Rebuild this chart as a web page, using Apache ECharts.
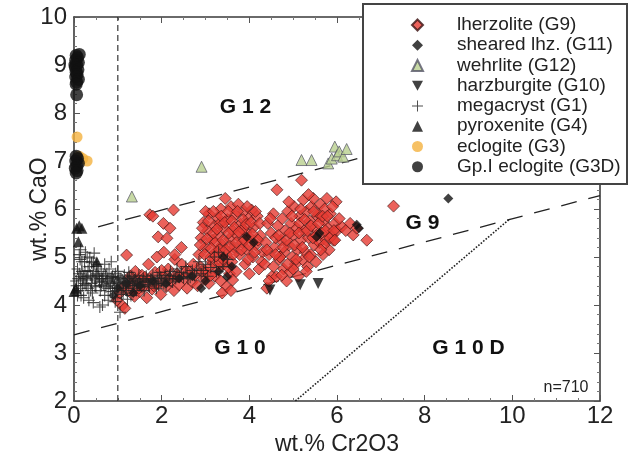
<!DOCTYPE html>
<html><head><meta charset="utf-8">
<script src="https://cdn.jsdelivr.net/npm/echarts@6/dist/echarts.min.js"></script>
<style>html,body{margin:0;padding:0;background:#fff}#c{width:630px;height:461px}</style>
</head><body><div id="c"></div>
<script>
const seriesNames = ['lherzolite (G9)','sheared lhz. (G11)','wehrlite (G12)','harzburgite (G10)','megacryst (G1)','pyroxenite (G4)','eclogite (G3)','Gp.I eclogite (G3D)'];
const xTicks = [0,2,4,6,8,10,12];
const yTicks = [2,3,4,5,6,7,8,9,10];

const lherzolite = [
[1.10,3.99],[1.16,3.93],[1.20,5.04],[1.25,4.30],[1.32,4.45],[1.38,4.18],[1.45,4.52],[1.50,4.28],[1.55,4.62],[1.60,4.40],
[1.66,4.15],[1.72,4.55],[1.78,4.33],[1.85,4.68],[1.89,5.00],[1.92,4.45],[1.98,4.22],[2.04,4.60],[2.10,4.38],[2.15,4.75],
[2.22,4.50],[2.28,4.30],[2.35,4.65],[2.40,4.42],[2.46,4.85],[2.52,4.55],[2.58,4.35],[2.64,4.72],[2.70,4.48],[2.76,4.62],
[2.82,4.40],[2.88,4.80],[2.95,4.55],[3.02,4.68],[3.08,4.45],[3.15,4.90],[3.22,4.60],[3.28,4.75],[3.35,4.50],[3.42,4.85],
[3.48,4.38],[3.55,4.65],[3.62,4.52],[3.38,4.25],[3.58,4.30],[1.40,4.70],[1.70,4.85],[2.30,4.95],[0.98,4.10],[1.05,4.25],
[1.15,4.40],[1.28,4.60],[1.48,4.35],[1.62,4.58],[1.82,4.40],[2.00,4.72],[2.18,4.55],[2.38,4.60],[2.55,4.70],[2.72,4.85],
[2.92,4.70],[3.12,4.62],[3.32,4.88],[3.52,4.78],
[1.73,5.88],[2.04,5.70],[2.19,5.60],[1.92,5.42],[2.12,5.39],[2.27,5.98],[1.80,5.85],[2.30,5.05],[2.05,5.10],[2.45,5.20],
[2.85,5.05],[2.90,5.40],[2.95,5.72],[3.00,5.20],[3.05,5.55],[3.08,5.90],[3.12,5.00],[3.15,5.35],[3.20,5.65],[3.25,5.12],
[3.28,5.82],[3.30,5.45],[3.35,6.00],[3.38,5.25],[3.42,5.60],[3.45,6.22],[3.48,5.05],[3.50,5.78],[3.55,5.38],[3.58,6.05],
[3.60,4.90],[3.62,5.55],[3.65,5.20],[3.68,5.88],[3.72,5.45],[3.75,6.10],[3.78,5.05],[3.80,5.68],[3.84,5.30],[3.88,5.95],
[3.90,4.85],[3.92,5.52],[3.95,5.15],[3.98,5.80],[4.02,5.40],[4.05,5.98],[4.08,5.00],[4.10,5.62],[4.15,5.25],[4.18,5.85],
[4.22,4.75],[4.25,5.45],[3.10,4.80],[3.40,4.95],[3.70,4.70],[4.00,4.65],[3.52,5.95],[3.22,5.30],[3.85,5.58],[4.30,5.10],
[3.00,5.95],[3.33,5.70],[3.95,6.05],
[2.88,5.25],[2.93,5.60],[2.98,5.05],[3.03,5.38],[3.07,5.75],[3.13,5.18],[3.18,5.50],[3.18,5.95],[3.24,5.02],[3.26,5.58],
[3.32,5.15],[3.36,5.85],[3.40,5.35],[3.44,5.72],[3.46,5.15],[3.53,5.50],[3.56,5.22],[3.60,5.75],[3.63,5.05],[3.66,5.62],
[3.70,5.30],[3.73,5.95],[3.76,5.52],[3.82,5.15],[3.86,5.78],[3.89,5.35],[3.93,5.68],[3.97,4.95],[4.00,5.25],[4.04,5.72],
[4.07,5.48],[4.12,5.10],[4.14,5.95],[4.20,5.35],[4.24,5.70],[4.28,4.90],
[4.35,4.85],[4.38,5.30],[4.40,4.35],[4.42,5.70],[4.45,5.05],[4.50,5.50],[4.52,4.60],[4.55,5.90],[4.58,5.20],[4.62,4.59],
[4.63,6.40],[4.65,5.65],[4.68,4.95],[4.72,5.35],[4.75,5.80],[4.78,4.75],[4.80,5.10],[4.82,5.55],[4.85,4.50],[4.88,5.95],
[4.90,5.25],[4.93,4.69],[4.95,5.70],[4.98,5.00],[5.00,5.45],[5.02,6.05],[5.05,4.85],[5.08,5.60],[5.10,5.15],[5.12,4.60],
[5.15,5.85],[5.18,5.35],[5.19,6.60],[5.22,4.94],[5.23,6.19],[5.25,5.55],[5.28,5.10],[5.30,5.95],[5.33,4.80],[5.35,5.40],
[5.38,5.75],[5.40,5.05],[5.42,6.05],[5.46,6.22],[5.48,5.25],[5.50,5.60],[5.52,4.90],[5.55,5.85],[5.57,5.91],[5.60,5.30],
[5.62,6.10],[5.65,5.50],[5.68,5.05],[5.70,5.75],[5.72,6.00],[5.75,5.35],[5.77,6.22],[5.80,5.60],[5.82,5.15],[5.85,5.90],
[5.88,5.45],[5.92,5.35],[5.95,5.70],[5.98,6.15],[6.00,5.55],[4.70,5.00],[5.00,4.75],[5.30,4.70],[4.45,4.50],[4.60,5.40],
[5.15,5.70],[5.45,5.40],[5.70,5.25],[4.90,6.15],[5.35,6.30],
[4.40,5.15],[4.48,5.80],[4.55,4.80],[4.60,5.05],[4.67,5.45],[4.74,4.62],[4.77,5.20],[4.85,5.35],[4.87,4.85],[4.92,5.50],
[4.97,5.85],[5.03,5.25],[5.07,4.95],[5.13,5.50],[5.17,6.00],[5.21,5.20],[5.26,5.78],[5.32,5.55],[5.37,5.00],[5.41,5.65],
[5.47,5.95],[5.53,5.45],[5.58,5.70],[5.63,5.15],[5.67,5.85],[5.73,5.55],[5.78,5.85],[5.84,5.40],[5.90,6.05],[5.93,5.55],
[5.95,5.35],[6.11,5.63],[6.30,5.70],[6.37,5.46],[6.68,5.35],[6.20,5.55],[6.45,5.60],[7.29,6.06],[6.05,5.80]
];
const shearedLhz = [
[0.90,4.20],[1.00,4.35],[1.20,4.45],[1.35,4.25],[1.50,4.40],[1.80,4.50],[2.10,4.45],[2.40,4.55],[2.70,4.60],[2.90,4.35],
[3.00,4.50],[3.30,4.70],[3.41,5.00],[3.49,4.59],[3.60,4.80],[3.94,5.42],[4.10,5.30],[5.54,5.42],[5.60,5.50],[6.45,5.67],
[6.50,5.60],[8.54,6.22]
];
const wehrlite = [
[1.32,6.26],[2.91,6.88],[5.19,7.02],[5.42,7.02],[5.80,6.95],[5.88,7.05],[5.95,7.30],[6.00,7.12],[6.05,7.20],[6.14,7.09],[6.22,7.25]
];
const harzburgite = [[4.47,4.31],[5.16,4.42],[5.57,4.45]];
const megacryst = [
[0.05,4.50],[0.08,4.75],[0.10,4.30],[0.12,5.05],[0.15,4.60],[0.18,4.90],[0.20,4.40],[0.22,4.15],[0.25,4.70],[0.28,4.55],
[0.30,5.00],[0.32,4.35],[0.35,4.80],[0.38,4.62],[0.40,4.45],[0.42,4.25],[0.45,4.70],[0.48,4.52],[0.50,4.38],[0.52,4.85],
[0.55,4.60],[0.58,4.48],[0.59,3.96],[0.60,4.30],[0.62,4.70],[0.65,4.55],[0.68,4.42],[0.70,4.20],[0.72,4.62],[0.75,4.50],
[0.78,4.35],[0.80,4.75],[0.82,4.45],[0.85,4.58],[0.88,4.28],[0.90,4.52],[0.92,4.40],[0.94,4.07],[0.95,4.65],[0.98,4.48],
[1.00,4.35],[1.02,4.58],[1.05,4.42],[1.08,4.22],[1.10,4.52],[1.12,4.38],[1.15,4.62],[1.18,4.45],[1.20,4.30],[1.22,4.55],
[1.25,4.40],[1.28,4.50],[1.30,4.20],[1.32,4.60],[1.35,4.45],[1.38,4.35],[1.40,4.55],[1.45,4.42],[1.48,4.62],[1.50,4.50],
[1.55,4.38],[1.58,4.55],[1.62,4.48],[1.65,4.60],[1.70,4.42],[1.75,4.52],[1.80,4.62],[1.85,4.45],[1.90,4.55],[1.95,4.68],
[2.00,4.50],[2.08,4.62],[2.15,4.55],[2.20,4.70],[2.28,4.60],[2.35,4.75],[2.45,4.68],[2.55,4.80],[2.70,4.72],[2.85,4.90],
[3.00,4.85],[3.20,5.00],[3.30,5.10],[0.14,4.95],[0.26,5.10],[0.36,4.98],[0.46,5.08],[0.16,4.20],[0.34,4.10],[0.44,4.05],
[0.65,4.00],[0.78,4.10],[1.05,3.85],[0.25,4.45],[0.55,4.75],[0.70,4.85],[0.85,4.90],[0.40,4.88],[0.12,4.65],[0.06,4.40],
[0.30,4.60],[0.62,4.40],[0.88,4.60],[1.12,4.25],[1.42,4.30],[1.60,4.30],[1.88,4.35],[2.10,4.40],[0.20,4.52],[0.50,4.62],
[0.75,4.65],[1.00,4.70],[1.25,4.68],[0.95,4.15],[1.22,4.12],[2.60,4.55],[2.90,4.65],
[0.10,4.55],[0.15,4.35],[0.18,4.70],[0.22,4.58],[0.28,4.42],[0.32,4.72],[0.38,4.30],[0.42,4.58],[0.48,4.40],[0.52,4.65],
[0.58,4.55],[0.63,4.48],[0.68,4.60],[0.73,4.38],[0.77,4.55],[0.83,4.35],[0.87,4.48],[0.93,4.58],[0.97,4.30],[1.03,4.45],
[1.07,4.55],[1.13,4.48],[1.17,4.35],[1.23,4.48],[1.27,4.58],[1.33,4.40],[1.37,4.52],[1.43,4.48],[1.52,4.42],[1.57,4.48],
[1.67,4.52],[1.72,4.38],[1.78,4.55],[1.83,4.48],[1.93,4.42],[1.98,4.58],[2.05,4.45],[2.12,4.52],[2.18,4.62],[2.25,4.48],
[2.32,4.55],[2.40,4.60],[2.50,4.58],[2.58,4.65],[2.65,4.58],[2.75,4.62],[2.80,4.75],[2.95,4.72],[3.05,4.60],[3.12,4.78],
[3.25,4.70],[3.40,4.80],[3.50,4.95],[0.08,4.20],[0.24,4.90],[0.44,4.90],[0.15,5.15]
];
const pyroxenite = [[0.06,5.60],[0.18,5.60],[0.10,5.32],[0.52,4.90],[0.00,4.28],[0.04,4.35],[0.12,5.65]];
const eclogite = [[0.07,7.50],[0.30,7.00],[0.20,7.05],[0.12,7.10]];
const gp1Eclogite = [
[0.12,9.22],[0.05,9.20],[0.08,9.15],[0.04,9.10],[0.10,9.05],[0.06,9.00],[0.02,9.00],[0.03,8.95],[0.09,8.90],[0.05,8.85],
[0.07,8.80],[0.04,8.75],[0.10,8.70],[0.06,8.65],[0.05,8.60],[0.06,8.38],[0.05,7.10],[0.08,7.05],[0.04,7.00],[0.10,6.95],
[0.06,6.90],[0.03,6.85],[0.07,6.80],[0.05,6.75]
];

const g9g10Line = [[0,3.38],[12,6.28]];
const g12g9Line = [[0.55,5.63],[6.6,7.08]];
const g10dLine = [[5.05,2.0],[9.95,5.8]];
const cr1Line = [[1,2],[1,10]];

const FONT = "'Liberation Sans', Arial, Helvetica, sans-serif";
const chart = echarts.init(document.getElementById('c'), null, {renderer:'canvas'});

const plusPath = 'path://M0,4.55H10V5.45H0Z M4.55,0H5.45V10H4.55Z';
const downTri = 'path://M0,0L10,0L5,9Z';

function axisCommon(showLabel){
  return {
    axisLine:{show:true, onZero:false, lineStyle:{color:'#3a3a3a', width:1.6}},
    axisTick:{show:true, inside:true, length:6, lineStyle:{color:'#555', width:1}},
    splitLine:{show:false},
    axisLabel:{show:showLabel}
  };
}

const lineSeries = (name, data, dash, width) => ({
  name, type:'line', data, symbol:'none', silent:true, z:1,
  lineStyle:{color:'#222', width, type:dash}, animation:false
});

const option = {
  backgroundColor:'#fff',
  animation:false,
  grid:{left:74, right:30, top:17, bottom:60},
  xAxis:[
    Object.assign({type:'value', min:0, max:12, interval:2, position:'bottom',
      name:'wt.% Cr2O3', nameLocation:'middle', nameGap:27,
      nameTextStyle:{fontSize:23, color:'#222', fontFamily:FONT}}, axisCommon(true),
      {minorTick:{show:true, splitNumber:4, length:3, lineStyle:{color:'#777'}},
       axisLabel:{show:true, fontSize:24, color:'#222', fontFamily:FONT, margin:3, formatter:v=>xTicks.includes(v)?String(v):''}}),
    Object.assign({type:'value', min:0, max:12, interval:2, position:'top'}, axisCommon(false),
      {minorTick:{show:true, splitNumber:4, length:3, lineStyle:{color:'#777'}}})
  ],
  yAxis:[
    Object.assign({type:'value', min:2, max:10, interval:1, position:'left',
      name:'wt.% CaO', nameLocation:'middle', nameGap:23, nameRotate:90, nameMoveOverlap:false,
      nameTextStyle:{fontSize:23, color:'#222', fontFamily:FONT}}, axisCommon(true),
      {minorTick:{show:true, splitNumber:5, length:3, lineStyle:{color:'#777'}},
       axisLabel:{show:true, fontSize:24, color:'#222', fontFamily:FONT, margin:7, formatter:v=>yTicks.includes(v)?String(v):''}}),
    Object.assign({type:'value', min:2, max:10, interval:1, position:'right'}, axisCommon(false),
      {minorTick:{show:true, splitNumber:5, length:3, lineStyle:{color:'#777'}}})
  ],
  legend:{
    data:seriesNames, orient:'vertical', left:411, top:15, padding:0, itemGap:0.25,
    itemWidth:11, itemHeight:11, selectedMode:false, z:20,
    textStyle:{fontSize:19, fontFamily:FONT, color:'#222', lineHeight:20, padding:[0,0,0,29]}
  },
  graphic:[
    {type:'rect', z:10, shape:{x:363, y:4, width:264, height:180}, style:{fill:'#fff', stroke:'#444', lineWidth:2}},
    {type:'text', z:10, x:245.5, y:107.5, style:{text:'G 1 2', font:'bold 21px '+FONT, fill:'#111', align:'center', verticalAlign:'middle'}},
    {type:'text', z:10, x:422.5, y:223, style:{text:'G 9', font:'bold 21px '+FONT, fill:'#111', align:'center', verticalAlign:'middle'}},
    {type:'text', z:10, x:240, y:348.5, style:{text:'G 1 0', font:'bold 21px '+FONT, fill:'#111', align:'center', verticalAlign:'middle'}},
    {type:'text', z:10, x:468.5, y:348, style:{text:'G 1 0 D', font:'bold 21px '+FONT, fill:'#111', align:'center', verticalAlign:'middle'}},
    {type:'text', z:10, x:566, y:388, style:{text:'n=710', font:'16px '+FONT, fill:'#222', align:'center', verticalAlign:'middle'}}
  ],
  series:[
    lineSeries('cr1', cr1Line, [6,4], 1.1),
    lineSeries('g9g10', g9g10Line, [16,12], 1.3),
    lineSeries('g12g9', g12g9Line, [16,12], 1.3),
    lineSeries('g10d', g10dLine, [1.6,1.6], 1.6),
    {name:seriesNames[0], type:'scatter', data:lherzolite, symbol:'diamond', symbolSize:12, z:2,
      itemStyle:{color:'#e63b32', borderColor:'#3a1212', borderWidth:0.8}},
    {name:seriesNames[1], type:'scatter', data:shearedLhz, symbol:'diamond', symbolSize:10, z:3,
      itemStyle:{color:'#111'}},
    {name:seriesNames[2], type:'scatter', data:wehrlite, symbol:'triangle', symbolSize:11, z:3,
      itemStyle:{color:'#b9d08e', borderColor:'#556', borderWidth:0.9}},
    {name:seriesNames[3], type:'scatter', data:harzburgite, symbol:downTri, symbolSize:11, z:3,
      itemStyle:{color:'#111'}},
    {name:seriesNames[4], type:'scatter', data:megacryst, symbol:plusPath, symbolSize:12, z:3,
      itemStyle:{color:'#222', opacity:0.8}},
    {name:seriesNames[5], type:'scatter', data:pyroxenite, symbol:'triangle', symbolSize:11, z:4,
      itemStyle:{color:'#111'}},
    {name:seriesNames[6], type:'scatter', data:eclogite, symbol:'circle', symbolSize:11, z:4,
      itemStyle:{color:'#f4b23e'}},
    {name:seriesNames[7], type:'scatter', data:gp1Eclogite, symbol:'circle', symbolSize:13, z:4,
      itemStyle:{color:'#111'}}
  ]
};
chart.setOption(option);
</script></body></html>
